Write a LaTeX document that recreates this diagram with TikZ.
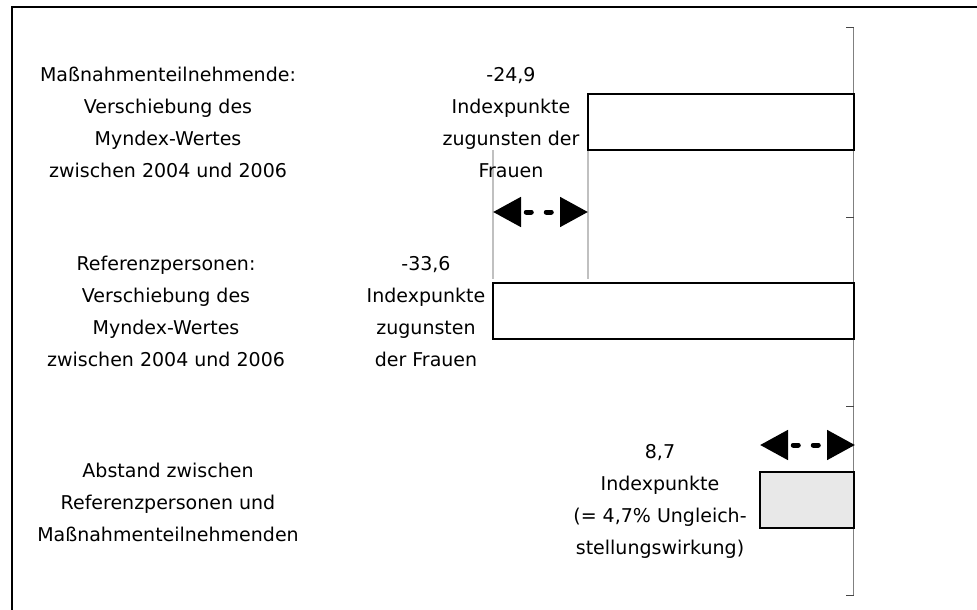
\documentclass[tikz,border=0pt]{standalone}
\usepackage{fontspec}
\setmainfont{DejaVu Sans}
\usetikzlibrary{arrows.meta}
\definecolor{axisgray}{RGB}{128,128,128}
\definecolor{tickgray}{RGB}{70,70,70}
\definecolor{guidegray}{RGB}{192,192,192}
\definecolor{barfill}{RGB}{232,232,232}
\newcommand{\T}{\rule{0pt}{16pt}}
\begin{document}
\begin{tikzpicture}[x=1pt,y=-1pt,
  txt/.style={align=center, inner sep=0pt, anchor=north, text=black,
    font=\fontsize{19}{32}\selectfont},
  barbox/.style={draw=black, line width=2pt},
  axisline/.style={draw=axisgray, line width=1pt},
  tickline/.style={draw=tickgray, line width=1pt},
  guide/.style={draw=guidegray, line width=1.5pt},
  frameline/.style={draw=black, line width=2pt},
  dimarrow/.style={line width=5pt, line cap=round,
    {Triangle[length=28pt,width=29pt]}-{Triangle[length=28pt,width=29pt]},
    dash pattern=on 5pt off 15pt, dash phase=13.5pt}]
\path[use as bounding box] (0,0) rectangle (977,610);
% frame (cropped)
\draw[frameline] (11.5,610) -- (11.5,7) -- (977,7);
% axis
\draw[axisline] (853.5,28) -- (853.5,595);
\foreach \yy in {28,217,406,595} \draw[tickline] (846,\yy) -- (853.5,\yy);
% guide lines
\draw[guide] (493,150) -- (493,279);
\draw[guide] (588,150) -- (588,279);
% bars
\draw[barbox, fill=white] (588,94) rectangle (853.5,150);
\draw[barbox, fill=white] (493,283) rectangle (853.5,339);
\draw[barbox, fill=barfill] (760,472) rectangle (853.5,528);
% arrows
\coordinate (g1) at (493,212);
\coordinate (g2) at (588,212);
\draw[dimarrow] (g1) -- (g2);
\coordinate (h1) at (760,445);
\coordinate (h2) at (855,445);
\draw[dimarrow] (h1) -- (h2);
% texts
\node[txt] (l1) at (168,65) {\T Maßnahmenteilnehmende:\\Verschiebung des\\Myndex-Wertes\\zwischen 2004 und 2006};
\node[txt] (r1) at (511,65) {\T -24,9\\Indexpunkte\\zugunsten der\\Frauen};
\node[txt] (l2) at (166,254) {\T Referenzpersonen:\\Verschiebung des\\Myndex-Wertes\\zwischen 2004 und 2006};
\node[txt] (r2) at (426,254) {\T -33,6\\Indexpunkte\\zugunsten\\der Frauen};
\node[txt] (l3) at (168,461) {\T Abstand zwischen\\Referenzpersonen und\\Maßnahmenteilnehmenden};
\node[txt] (r3) at (660,442) {\T 8,7\\Indexpunkte\\(= 4,7\% Ungleich-\\stellungswirkung)};
\end{tikzpicture}
\end{document}
